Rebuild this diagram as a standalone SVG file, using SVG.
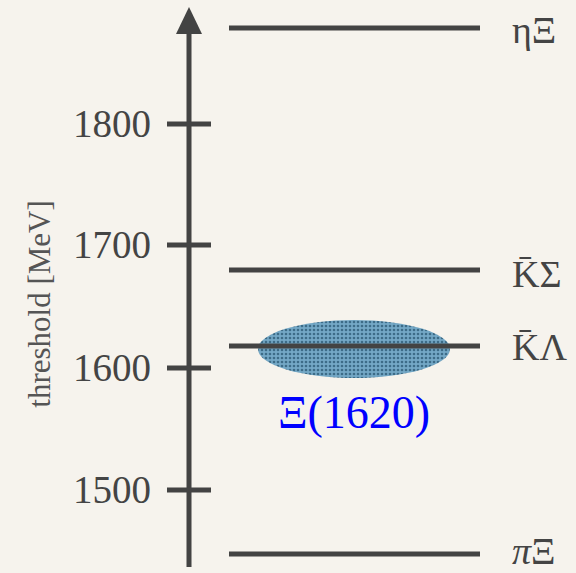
<svg xmlns="http://www.w3.org/2000/svg" width="576" height="573" viewBox="0 0 576 573">
<defs>
<style>
.ln{stroke:#434343;stroke-width:5;fill:none}
.tk{font-family:"Liberation Serif",serif;font-size:39px;fill:#444;text-anchor:end}
.lb{font-family:"Liberation Serif",serif;font-size:38px;fill:#444}
</style>
<pattern id="dots" width="4" height="4" patternUnits="userSpaceOnUse">
<rect width="4" height="4" fill="#74a8c6"/>
<circle cx="2" cy="2" r="1.3" fill="#3d6c88"/>
</pattern>
</defs>
<rect width="576" height="573" fill="#f6f3ed"/>
<g id="axis">
<line class="ln" x1="189" y1="567" x2="189" y2="30"/>
<polygon points="189,7 176,34 202,34" fill="#434343"/>
<line class="ln" x1="167" y1="124" x2="211" y2="124"/>
<line class="ln" x1="167" y1="245" x2="211" y2="245"/>
<line class="ln" x1="167" y1="368" x2="211" y2="368"/>
<line class="ln" x1="167" y1="490" x2="211" y2="490"/>
<text class="tk" x="151" y="137">1800</text>
<text class="tk" x="151" y="258">1700</text>
<text class="tk" x="151" y="381">1600</text>
<text class="tk" x="151" y="503">1500</text>
<text transform="translate(50,304) rotate(-90)" font-family="Liberation Serif,serif" font-size="31" fill="#555" text-anchor="middle">threshold [MeV]</text>
</g>
<g id="resonance">
<ellipse cx="354" cy="349" rx="96" ry="29" fill="url(#dots)"/>
<text x="354" y="428" font-family="Liberation Serif,serif" font-size="46" fill="#0000ff" text-anchor="middle">Ξ(1620)</text>
</g>
<g id="thresholds">
<g id="etaXi"><line class="ln" x1="229" y1="28" x2="480" y2="28"/><text class="lb" x="512" y="43">ηΞ</text></g>
<g id="KSigma"><line class="ln" x1="229" y1="270" x2="480" y2="270"/><text class="lb" x="512" y="287">K̄Σ</text></g>
<g id="KLambda"><line class="ln" x1="229" y1="346" x2="480" y2="346"/><text class="lb" x="512" y="360">K̄Λ</text></g>
<g id="piXi"><line class="ln" x1="229" y1="554" x2="480" y2="554"/><text class="lb" x="512" y="564"><tspan font-style="italic">π</tspan>Ξ</text></g>
</g>
</svg>
